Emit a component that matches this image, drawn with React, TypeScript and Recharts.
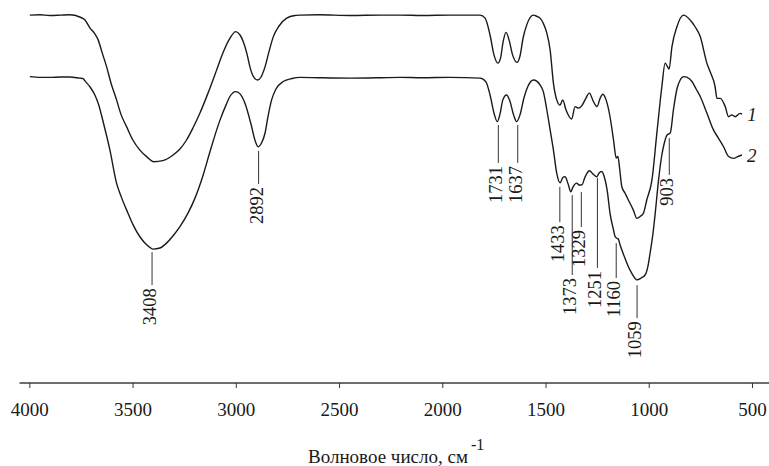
import React from 'react';
import { ComposedChart, Line, Scatter, XAxis, YAxis, ReferenceLine } from 'recharts';

const FONT = '"Liberation Serif", "Times New Roman", Times, serif';

// [wavenumber, transmittance (arb. %)]
const spectrum1: [number, number][] = [
  [4000, 98.1], [3950, 98.2], [3903, 98.0], [3850, 98.1], [3806, 98.2], [3758, 97.6], [3733, 96.8],
  [3709, 94.7], [3685, 93.1], [3669, 91.5], [3651, 88.3], [3628, 84.3], [3607, 80.0], [3580, 75.5],
  [3559, 71.7], [3531, 68.3], [3501, 64.8], [3467, 62.1], [3433, 60.3], [3400, 59.0], [3356, 59.3],
  [3306, 60.8], [3273, 62.4], [3241, 64.8], [3210, 68.0], [3176, 72.0], [3137, 77.3], [3095, 83.5],
  [3065, 88.0], [3031, 91.9], [3003, 93.7], [2982, 92.8], [2966, 91.0], [2948, 87.7], [2934, 84.3],
  [2919, 81.9], [2897, 80.8], [2880, 81.6], [2861, 84.3], [2842, 88.3], [2821, 92.3], [2793, 95.2],
  [2756, 97.3], [2716, 98.0], [2692, 98.1], [2600, 98.2], [2449, 98.0], [2300, 98.1], [2207, 98.1],
  [2100, 98.0], [1965, 98.1], [1819, 98.1], [1795, 97.3], [1771, 92.8], [1752, 87.5], [1733, 85.3],
  [1720, 86.7], [1708, 90.9], [1694, 93.5], [1679, 91.5], [1662, 87.5], [1640, 85.5], [1626, 87.2],
  [1611, 92.0], [1592, 95.7], [1561, 98.1], [1545, 97.8], [1529, 97.3], [1513, 95.9], [1496, 93.3],
  [1480, 88.8], [1464, 79.9], [1448, 75.5], [1432, 74.1], [1419, 75.5], [1403, 72.8], [1376, 70.4],
  [1359, 73.7], [1343, 73.3], [1327, 73.9], [1311, 75.5], [1290, 77.3], [1270, 75.0], [1253, 73.7],
  [1238, 75.9], [1225, 77.0], [1209, 75.5], [1190, 71.0], [1173, 64.8], [1160, 60.0], [1152, 60.4],
  [1143, 57.0], [1133, 52.4], [1117, 50.6], [1101, 48.8], [1077, 46.1], [1060, 43.9], [1044, 44.4],
  [1028, 45.3], [1012, 48.8], [987, 54.1], [963, 66.7], [939, 79.0], [923, 85.3], [913, 84.5],
  [904, 83.7], [890, 89.7], [866, 95.0], [834, 98.1], [802, 96.8], [778, 95.0], [753, 92.4],
  [721, 85.3], [705, 83.0], [681, 79.0], [672, 75.9], [656, 75.9], [632, 73.7], [616, 71.0],
  [600, 71.5], [584, 71.0], [560, 71.9], [550, 71.7],
];

const spectrum2: [number, number][] = [
  [4000, 81.7], [3950, 81.5], [3903, 81.5], [3850, 81.6], [3806, 81.6], [3758, 81.3], [3743, 81.2],
  [3729, 80.3], [3709, 79.0], [3685, 76.8], [3669, 74.6], [3641, 68.8], [3612, 62.1], [3580, 53.3],
  [3559, 49.9], [3531, 46.1], [3501, 42.3], [3467, 39.0], [3433, 36.8], [3403, 35.7], [3370, 36.0],
  [3338, 37.3], [3307, 39.2], [3273, 41.7], [3234, 45.3], [3200, 49.3], [3162, 55.2], [3128, 61.6],
  [3079, 70.1], [3050, 74.1], [3031, 76.4], [3003, 77.7], [2982, 77.1], [2958, 74.6], [2926, 68.4],
  [2910, 64.8], [2894, 63.0], [2878, 64.0], [2861, 66.6], [2847, 70.9], [2829, 75.5], [2808, 78.4],
  [2773, 80.4], [2730, 81.2], [2692, 81.5], [2600, 81.4], [2449, 81.3], [2300, 81.4], [2207, 81.5],
  [2100, 81.4], [1965, 81.5], [1819, 81.3], [1791, 80.3], [1771, 76.8], [1752, 72.0], [1736, 69.7],
  [1723, 71.7], [1709, 75.5], [1691, 76.8], [1675, 75.2], [1657, 71.5], [1642, 69.7], [1626, 71.5],
  [1607, 76.0], [1587, 79.2], [1561, 80.8], [1545, 80.5], [1529, 79.5], [1513, 77.7], [1496, 72.8],
  [1480, 67.5], [1464, 62.1], [1448, 55.9], [1432, 53.4], [1417, 54.9], [1408, 55.0], [1393, 53.1],
  [1380, 51.0], [1369, 52.3], [1351, 53.3], [1340, 52.8], [1327, 52.8], [1311, 54.9], [1290, 56.6],
  [1272, 55.7], [1254, 55.0], [1243, 56.0], [1230, 56.4], [1219, 55.2], [1204, 51.5], [1190, 45.3],
  [1173, 40.8], [1165, 39.0], [1157, 38.6], [1150, 38.4], [1141, 36.8], [1122, 33.9], [1101, 31.0],
  [1083, 29.1], [1060, 27.5], [1039, 28.0], [1020, 28.8], [1005, 31.5], [996, 34.6], [981, 40.3],
  [971, 45.3], [955, 54.1], [939, 60.8], [927, 64.0], [914, 66.1], [898, 66.7], [883, 72.8],
  [866, 78.4], [850, 80.8], [834, 81.7], [816, 81.5], [793, 80.4], [773, 78.4], [753, 76.4],
  [721, 72.0], [689, 67.5], [665, 65.3], [640, 63.0], [616, 60.4], [590, 59.9], [574, 60.3],
  [551, 60.8],
];

const peakWavenumbers = [3408, 2892, 1731, 1637, 1433, 1373, 1329, 1251, 1160, 1059, 903];
const leaderTop = [34.9, 61.9, 68.8, 68.8, 52.3, 50.1, 50.9, 54.7, 37.3, 26.1, 65.3];
const leaderBottom = [26.1, 53.1, 58.7, 58.7, 42.9, 28.8, 41.6, 30.7, 28.0, 17.3, 55.5];

const xTicks = [4000, 3500, 3000, 2500, 2000, 1500, 1000, 500];
const curveNames = ['1', '2'];
const axisTitle = 'Волновое число, см';
const axisTitleSup = '-1';

const toRows = (s: [number, number][]) => s.map(([x, y]) => ({ x, y }));
const data1 = toRows(spectrum1);
const data2 = toRows(spectrum2);
const peakRows = peakWavenumbers.map((x, i) => ({ x, y: leaderBottom[i], label: String(x) }));

const textStyle = { fontFamily: FONT };

const PeakLabel = (p: any) => {
  const tx = p.cx + 4;
  const ty = p.cy + 3;
  return (
    <text
      x={tx}
      y={ty}
      transform={`rotate(-90 ${tx} ${ty})`}
      textAnchor="end"
      style={textStyle}
      fontSize={18.5}
      fill="#1a1a1a"
    >
      {p.payload.label}
    </text>
  );
};

const makeEndLabel = (name: string, n: number) => (p: any) => {
  if (p.index !== n - 1) return <g key={`d-${p.index}`} />;
  return (
    <text
      key={`d-${p.index}`}
      x={p.cx + 5}
      y={p.cy}
      dy="0.35em"
      style={textStyle}
      fontStyle="italic"
      fontSize={19}
      fill="#1a1a1a"
    >
      {name}
    </text>
  );
};

const Tick = (p: any) => (
  <text x={p.x} y={p.y} dy={26} textAnchor="middle" style={textStyle} fontSize={19} fill="#1a1a1a">
    {p.payload.value}
  </text>
);

export default function App() {
  return (
    <div style={{ position: 'absolute', left: 0, top: 0, width: 769, height: 466, background: '#fff' }}>
      <ComposedChart width={769} height={466} margin={{ top: 8, right: 0, left: 19.5, bottom: 23 }}>
        <XAxis
          dataKey="x"
          type="number"
          domain={[420, 4050]}
          reversed
          ticks={xTicks}
          allowDataOverflow
          height={60}
          tickSize={5}
          tickMargin={2}
          tick={<Tick />}
          axisLine={{ stroke: '#6e6e6e', strokeWidth: 1.8 }}
          tickLine={{ stroke: '#333', strokeWidth: 1 }}
        />
        <YAxis dataKey="y" type="number" domain={[0, 100]} hide />
        {peakWavenumbers.map((w, i) => (
          <ReferenceLine
            key={`ref-${w}`}
            segment={[
              { x: w, y: leaderTop[i] },
              { x: w, y: leaderBottom[i] },
            ]}
            stroke="#333"
            strokeWidth={1}
          />
        ))}
        <Line
          data={data1}
          dataKey="y"
          type="monotone"
          stroke="#1a1a1a"
          strokeWidth={1.4}
          dot={makeEndLabel(curveNames[0], data1.length)}
          activeDot={false}
          isAnimationActive={false}
        />
        <Line
          data={data2}
          dataKey="y"
          type="monotone"
          stroke="#1a1a1a"
          strokeWidth={1.4}
          dot={makeEndLabel(curveNames[1], data2.length)}
          activeDot={false}
          isAnimationActive={false}
        />
        <Scatter data={peakRows} dataKey="y" shape={<PeakLabel />} isAnimationActive={false} />
      </ComposedChart>
      <svg
        width={769}
        height={466}
        style={{ position: 'absolute', left: 0, top: 0, pointerEvents: 'none' }}
      >
        <text x={308} y={463} style={textStyle} fontSize={19} fill="#1a1a1a">
          {axisTitle}
          <tspan dx={3} dy={-13} fontSize={16}>
            {axisTitleSup}
          </tspan>
        </text>
      </svg>
    </div>
  );
}
